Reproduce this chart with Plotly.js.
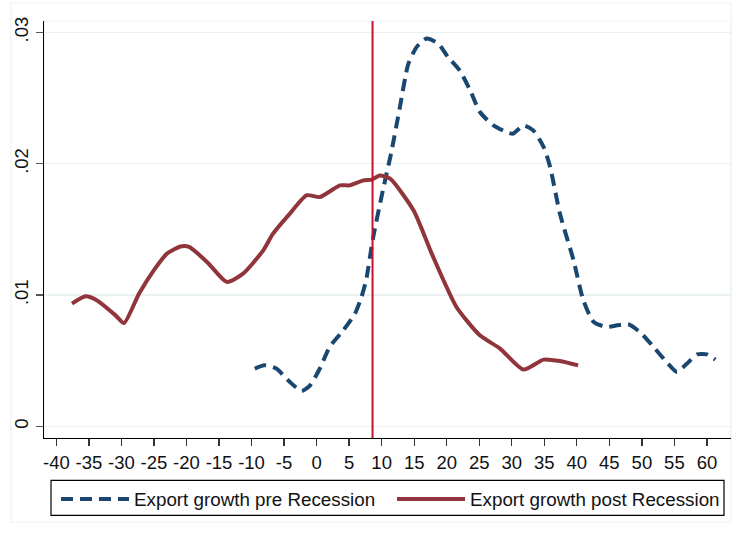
<!DOCTYPE html>
<html>
<head>
<meta charset="utf-8">
<script src="https://cdn.plot.ly/plotly-3.0.1.min.js"></script>
<style>html,body{margin:0;padding:0;background:#fff;} #chart{width:738px;height:535px;}</style>
</head>
<body>
<div id="chart"></div>
<script>
// Export growth pre Recession (dashed navy)
const preX = [-9.5, -8.0, -6.2, -4.1, -2.3, -1.0, 0.5, 2.0, 4.1, 5.9, 6.9, 7.6, 8.7, 10.2, 11.5, 12.8, 14.1, 15.4, 16.9, 18.7, 20.2, 22.0, 23.6, 25.1, 27.2, 29.2, 30.2, 31.8, 33.3, 34.9, 35.9, 37.4, 39.5, 41.0, 42.6, 44.6, 46.2, 47.9, 49.7, 51.8, 53.8, 55.4, 56.9, 58.5, 60.0, 61.3];
const preY = [0.0044, 0.00465, 0.0044, 0.00337, 0.00269, 0.00312, 0.0044, 0.00604, 0.00731, 0.00858, 0.00985, 0.0111, 0.0144, 0.018, 0.0209, 0.0243, 0.0276, 0.0289, 0.02953, 0.02915, 0.02812, 0.0271, 0.0256, 0.02394, 0.02292, 0.02241, 0.02229, 0.02292, 0.02254, 0.02127, 0.01975, 0.0162, 0.01264, 0.0096, 0.00794, 0.00756, 0.00769, 0.00777, 0.00718, 0.00604, 0.0049, 0.00414, 0.00477, 0.00548, 0.00548, 0.00508];

// Export growth post Recession (solid maroon)
const postX = [-37.6, -35.5, -33.8, -30.9, -29.6, -27.3, -25.0, -23.0, -20.9, -19.6, -16.8, -13.8, -11.3, -8.2, -6.7, -4.1, -1.5, 0.5, 3.6, 5.1, 7.2, 8.5, 9.7, 11.3, 14.9, 17.7, 21.5, 25.1, 28.2, 31.8, 34.9, 37.4, 40.2];
const postY = [0.00934, 0.0099, 0.0096, 0.00845, 0.00787, 0.0101, 0.0119, 0.01315, 0.0137, 0.01366, 0.0125, 0.0110, 0.01163, 0.0134, 0.01467, 0.0162, 0.0176, 0.01746, 0.01835, 0.01835, 0.01873, 0.01879, 0.0191, 0.01886, 0.01645, 0.01315, 0.00909, 0.00693, 0.00592, 0.00432, 0.00508, 0.00497, 0.00464];

const recessionX = 8.6;

const xTickVals = [-40, -35, -30, -25, -20, -15, -10, -5, 0, 5, 10, 15, 20, 25, 30, 35, 40, 45, 50, 55, 60];
const xTickText = ["-40", "-35", "-30", "-25", "-20", "-15", "-10", "-5", "0", "5", "10", "15", "20", "25", "30", "35", "40", "45", "50", "55", "60"];
const yTickVals = [0, 0.01, 0.02, 0.03];
const yTickText = ["0", ".01", ".02", ".03"];

const seriesNames = ["Export growth pre Recession", "Export growth post Recession"];

const FONT = "Liberation Sans, Arial, Helvetica, sans-serif";

const traces = [
  {
    x: preX, y: preY, type: "scatter", mode: "lines", name: seriesNames[0],
    line: {color: "#1a476f", width: 4, dash: "12px,7px", shape: "spline", smoothing: 0.6}
  },
  {
    x: postX, y: postY, type: "scatter", mode: "lines", name: seriesNames[1],
    line: {color: "#90353b", width: 4, shape: "spline", smoothing: 0.6}
  }
];

const layout = {
  width: 738, height: 535,
  margin: {l: 44, r: 7, t: 21, b: 97, pad: 0},
  paper_bgcolor: "#ffffff", plot_bgcolor: "#ffffff",
  font: {family: FONT, size: 18, color: "#111"},
  showlegend: true,
  legend: {
    orientation: "h", x: 0.0175, xanchor: "left", y: -0.1015, yanchor: "top",
    bgcolor: "rgba(0,0,0,0)", borderwidth: 0,
    font: {family: FONT, size: 18.8, color: "#111"},
    itemwidth: 68, entrywidth: 253, entrywidthmode: "pixels",
    traceorder: "normal"
  },
  xaxis: {
    range: [-41.9, 63.7], tickmode: "array", tickvals: xTickVals, ticktext: xTickText,
    showgrid: false, zeroline: false, showline: true, linecolor: "#000", linewidth: 1.3,
    ticks: "outside", ticklen: 7, tickwidth: 1.3, tickcolor: "#333",
    tickfont: {family: FONT, size: 18.5, color: "#111"}
  },
  yaxis: {
    range: [-0.00089, 0.03087], tickmode: "array", tickvals: yTickVals, ticktext: yTickText,
    showgrid: true, gridcolor: "#eaf1f3", gridwidth: 1.5, zeroline: false,
    showline: true, linecolor: "#000", linewidth: 1.3,
    ticks: "outside", ticklen: 7, tickwidth: 1.3, tickcolor: "#555", tickangle: -90,
    tickfont: {family: FONT, size: 18.5, color: "#111"}
  },
  shapes: [
    // outer graph region light border
    {type: "rect", xref: "paper", yref: "paper", x0: -0.0480, x1: 1.0, y0: -0.2019, y1: 1.0432,
     line: {color: "#eef3f5", width: 1.2}, fillcolor: "rgba(0,0,0,0)", layer: "below"},
    // plot region light border
    {type: "rect", xref: "paper", yref: "paper", x0: 0, x1: 1, y0: 0, y1: 1,
     line: {color: "#eef3f5", width: 1.2}, fillcolor: "rgba(0,0,0,0)", layer: "below"},
    // legend box
    {type: "rect", xref: "paper", yref: "paper", x0: 0.0102, x1: 0.9898, y0: -0.1015, y1: -0.1855,
     line: {color: "#000", width: 1.2}, fillcolor: "rgba(0,0,0,0)"},
    // recession line
    {type: "line", xref: "x", yref: "paper", x0: recessionX, x1: recessionX, y0: 0, y1: 1,
     line: {color: "#c8102e", width: 2}}
  ]
};

Plotly.newPlot("chart", traces, layout, {staticPlot: true, displayModeBar: false});
</script>
</body>
</html>
